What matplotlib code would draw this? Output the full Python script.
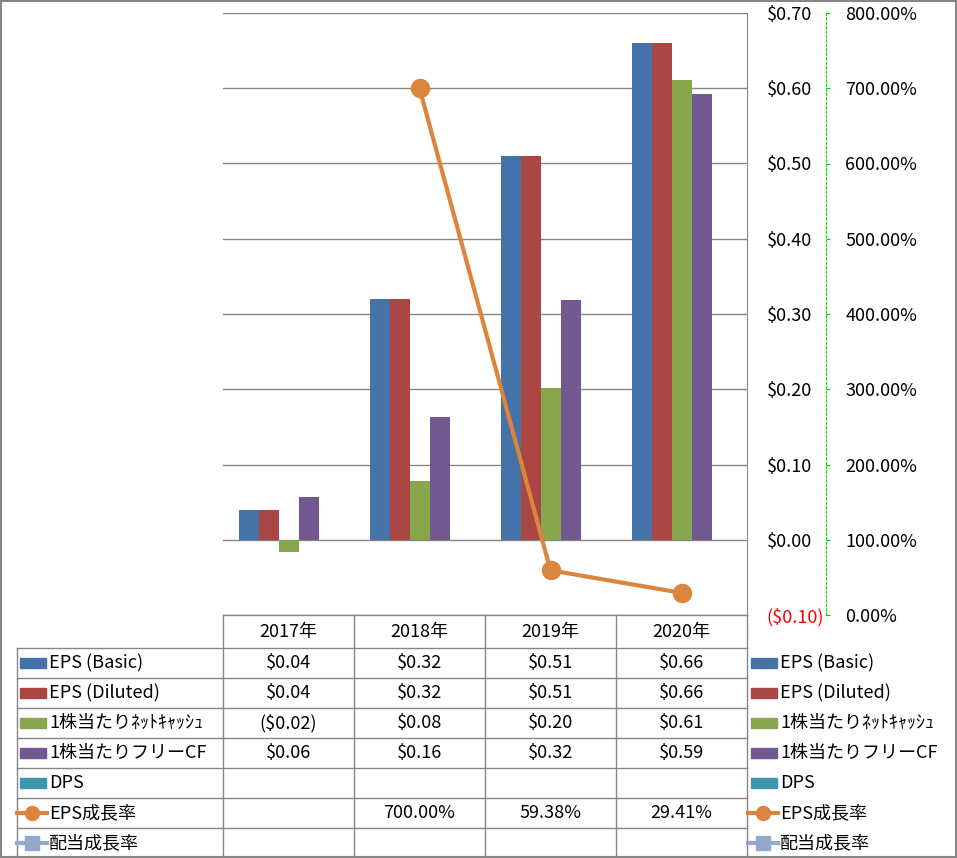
import numpy as np
import matplotlib
matplotlib.use("Agg")
import matplotlib.pyplot as plt
from matplotlib.patches import Rectangle
from matplotlib.lines import Line2D

plt.rcParams['font.family'] = ['Noto Sans CJK JP', 'DejaVu Sans']
plt.rcParams['font.size'] = 13

# data
years = ['2017年', '2018年', '2019年', '2020年']
eps_basic = [0.04, 0.32, 0.51, 0.66]
eps_diluted = [0.04, 0.32, 0.51, 0.66]
net_cash = [-0.016, 0.078, 0.202, 0.611]
free_cf = [0.057, 0.163, 0.318, 0.592]
dps = [np.nan, np.nan, np.nan, np.nan]
eps_growth = [np.nan, 7.0, 0.5938, 0.2941]
div_growth = [np.nan, np.nan, np.nan, np.nan]

bar_names = ['EPS (Basic)', 'EPS (Diluted)', '1株当たりﾈｯﾄｷｬｯｼｭ', '1株当たりフリーCF', 'DPS']
bar_values = [eps_basic, eps_diluted, net_cash, free_cf, dps]
bar_colors = ['#4572A7', '#AA4643', '#89A54E', '#71588F', '#3D96AE']
line_names = ['EPS成長率', '配当成長率']
line_values = [eps_growth, div_growth]
line_colors = ['#DB843D', '#92A8CD']
line_markers = ['o', 's']

W, H = 957, 858
fig = plt.figure(figsize=(W / 100, H / 100), dpi=100)

# plot area in pixels
L, R, T, B = 223, 747, 13, 615
ax = fig.add_axes([L / W, 1 - B / H, (R - L) / W, (B - T) / H])
x = np.arange(len(years))
bw = 20 / 131
for i, (vals, c) in enumerate(zip(bar_values, bar_colors)):
    ax.bar(x + (i - 2) * bw, vals, bw, color=c, zorder=2)

ax.set_xlim(-0.5, len(years) - 0.5)
ax.set_ylim(-0.1, 0.7)
ax.set_xticks([])
ax.yaxis.grid(True, color='#868686', linewidth=1)
ax.set_axisbelow(True)
for s in ['top', 'left', 'bottom']:
    ax.spines[s].set_visible(False)
ax.spines['right'].set_color('#868686')


def money(v):
    if v < -1e-9:
        return f"(${-v:.2f})"
    return f"${abs(v):.2f}"


ax2 = ax.twinx()
ax2.set_ylim(0, 8)
ax2.set_yticks(np.arange(0, 8.1, 1))
ax2.set_yticklabels([f"{v * 100:.2f}%" for v in np.arange(0, 8.1, 1)])
for s in ['top', 'left', 'bottom']:
    ax2.spines[s].set_visible(False)
ax2.spines['right'].set_position(('outward', 79 * 72 / 100))
ax2.spines['right'].set_color('#00DD00')
ax2.spines['right'].set_linestyle((0, (2, 2)))
ax2.tick_params(axis='y', colors='#00DD00', labelcolor='black', length=3, pad=11)
ax2.set_xticks([])
for vals, c, m in zip(line_values, line_colors, line_markers):
    ax2.plot(x, vals, color=c, linewidth=3, marker=m, markersize=13, zorder=3)

# primary axis labels sit on the right, left-aligned next to the plot
ax.yaxis.tick_right()
ax.set_yticks(np.arange(-0.1, 0.71, 0.1))
ax.set_yticklabels([money(v) for v in ax.get_yticks()])
ax.tick_params(axis='y', length=0, pad=14)
for v, t in zip(ax.get_yticks(), ax.yaxis.get_major_ticks()):
    if v < -1e-9:
        t.label1.set_color('red')
        t.label2.set_color('red')

# data table + legends drawn in pixel coords
tab = fig.add_axes([0, 0, 1, 1])
tab.set_xlim(0, W)
tab.set_ylim(H, 0)
tab.axis('off')
gc = '#868686'
cw = (R - L) / len(years)
row_top = 648
rh = 30
nrows = len(bar_names) + len(line_names)
bottom = row_top + rh * nrows

# header
tab.plot([L, R], [B, B], color=gc, lw=1)
for j, yr in enumerate(years):
    tab.text(L + cw * (j + 0.5), (B + row_top) / 2, yr, ha='center', va='center')
for j in range(len(years) + 1):
    tab.plot([L + cw * j, L + cw * j], [B, bottom], color=gc, lw=1)
tab.plot([17, 17], [row_top, bottom], color=gc, lw=1)
for k in range(nrows + 1):
    tab.plot([17, R], [row_top + rh * k, row_top + rh * k], color=gc, lw=1)

names = bar_names + line_names
cells = []
for vals in bar_values:
    cells.append(['' if np.isnan(v) else money(v) for v in vals])
for vals in line_values:
    cells.append(['' if np.isnan(v) else f"{v * 100:.2f}%" for v in vals])
kinds = [('bar', c, None) for c in bar_colors] + list(zip(['line'] * 2, line_colors, line_markers))

for k, (name, row, kind) in enumerate(zip(names, cells, kinds)):
    yc = row_top + rh * (k + 0.5)
    for kx, tx in [(20, 49), (751, 780)]:
        if kind[0] == 'bar':
            tab.add_patch(Rectangle((kx, yc - 5), 26, 10, color=kind[1]))
        else:
            tab.add_line(Line2D([kx - 3, kx + 27], [yc, yc], color=kind[1], lw=3))
            tab.plot([kx + 12], [yc], marker=kind[2], color=kind[1], markersize=10)
        tab.text(tx, yc, name, ha='left', va='center')
    for j, s in enumerate(row):
        tab.text(L + cw * (j + 0.5), yc, s, ha='center', va='center')

# outer border
tab.add_patch(Rectangle((0.5, 0.5), W - 1.5, H - 1.5, fill=False, edgecolor=gc, lw=1.5))

fig.savefig('out.png', dpi=100)
